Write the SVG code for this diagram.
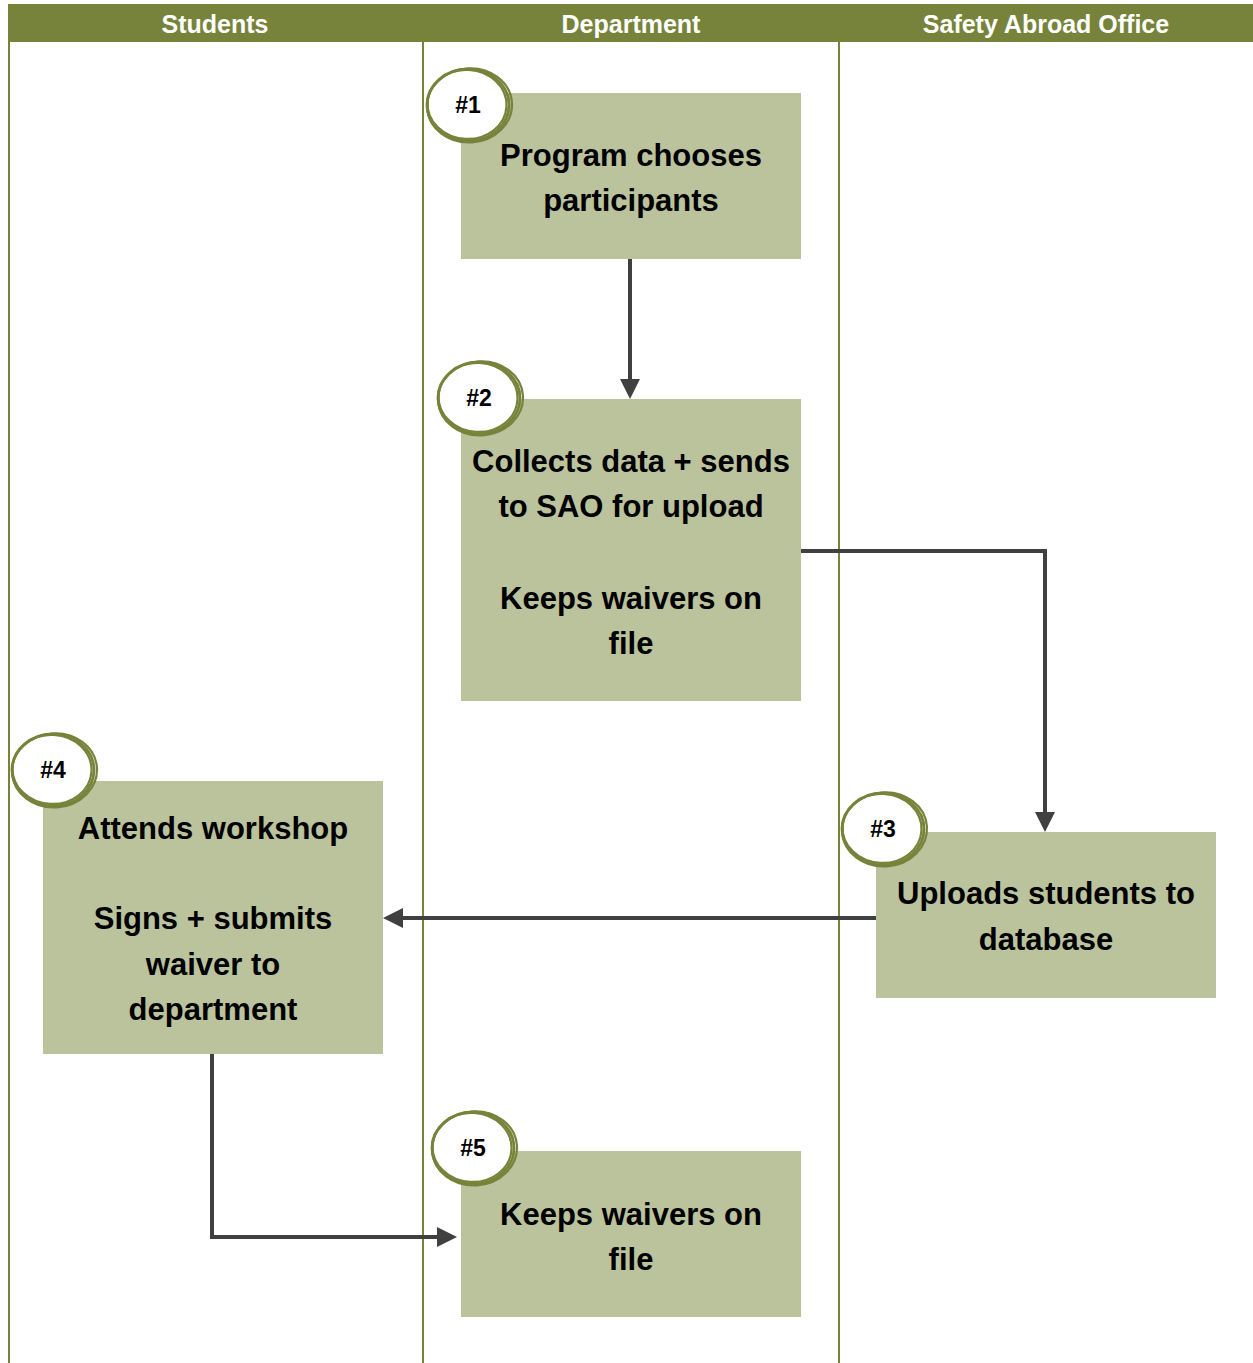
<svg xmlns="http://www.w3.org/2000/svg" width="1253" height="1363" viewBox="0 0 1253 1363">
<style>
.hdr{fill:#77833A}
.lane{stroke:#77833A;stroke-width:2;fill:none}
.ht{font-family:"Liberation Sans",Arial,sans-serif;font-weight:bold;font-size:25px;fill:#fff;text-anchor:middle}
.box{fill:#BBC39D}
.bt{font-family:"Liberation Sans",Arial,sans-serif;font-weight:bold;font-size:31px;fill:#000;text-anchor:middle}
.ring{fill:none;stroke:#77833A;stroke-width:2.2}
.rf{fill:#fff;stroke:#77833A;stroke-width:2.8}
.ct{font-family:"Liberation Sans",Arial,sans-serif;font-weight:bold;font-size:23px;fill:#000;text-anchor:middle}
.con{stroke:#404040;stroke-width:4;fill:none}
</style>
<defs>
<marker id="ah" markerWidth="5" markerHeight="5" refX="4" refY="2.5" orient="auto" markerUnits="strokeWidth">
<path d="M0,0 L5,2.5 L0,5 Z" fill="#404040"/>
</marker>
<g id="ringShape">
<ellipse class="rf" cx="0" cy="0" rx="41" ry="36"/>
<ellipse class="ring" cx="1.5" cy="0.5" rx="42.5" ry="37" transform="rotate(-4)"/>
<ellipse class="ring" cx="-1" cy="-0.5" rx="39.5" ry="34.5" transform="rotate(3)"/>
</g>
</defs>
<rect width="1253" height="1363" fill="#fff"/>
<g id="header">
<rect class="hdr" x="8" y="4" width="1245" height="38"/>
<text class="ht" x="215" y="33">Students</text>
<text class="ht" x="631" y="33">Department</text>
<text class="ht" x="1046" y="33">Safety Abroad Office</text>
</g>
<g id="lanes">
<line class="lane" x1="9" y1="42" x2="9" y2="1363"/>
<line class="lane" x1="423" y1="42" x2="423" y2="1363"/>
<line class="lane" x1="839" y1="42" x2="839" y2="1363"/>
</g>
<g id="connectors">
<path class="con" d="M630,259 L630,395" marker-end="url(#ah)"/>
<path class="con" d="M801,551 L1045,551 L1045,828" marker-end="url(#ah)"/>
<path class="con" d="M876,918 L387,918" marker-end="url(#ah)"/>
<path class="con" d="M212,1054 L212,1237 L453,1237" marker-end="url(#ah)"/>
</g>
<g id="node1">
<rect class="box" x="461" y="93" width="340" height="166"/>
<text class="bt" x="631" y="166">Program chooses</text>
<text class="bt" x="631" y="211">participants</text>
<use href="#ringShape" x="468" y="105"/>
<text class="ct" x="468" y="113">#1</text>
</g>
<g id="node2">
<rect class="box" x="461" y="399" width="340" height="302"/>
<text class="bt" x="631" y="472">Collects data + sends</text>
<text class="bt" x="631" y="517">to SAO for upload</text>
<text class="bt" x="631" y="609">Keeps waivers on</text>
<text class="bt" x="631" y="654">file</text>
<use href="#ringShape" x="479" y="398"/>
<text class="ct" x="479" y="406">#2</text>
</g>
<g id="node3">
<rect class="box" x="876" y="832" width="340" height="166"/>
<text class="bt" x="1046" y="904">Uploads students to</text>
<text class="bt" x="1046" y="950">database</text>
<use href="#ringShape" x="883" y="829"/>
<text class="ct" x="883" y="837">#3</text>
</g>
<g id="node4">
<rect class="box" x="43" y="781" width="340" height="273"/>
<text class="bt" x="213" y="839">Attends workshop</text>
<text class="bt" x="213" y="929">Signs + submits</text>
<text class="bt" x="213" y="975">waiver to</text>
<text class="bt" x="213" y="1020">department</text>
<use href="#ringShape" x="53" y="770"/>
<text class="ct" x="53" y="778">#4</text>
</g>
<g id="node5">
<rect class="box" x="461" y="1151" width="340" height="166"/>
<text class="bt" x="631" y="1225">Keeps waivers on</text>
<text class="bt" x="631" y="1270">file</text>
<use href="#ringShape" x="473" y="1148"/>
<text class="ct" x="473" y="1156">#5</text>
</g>
</svg>
